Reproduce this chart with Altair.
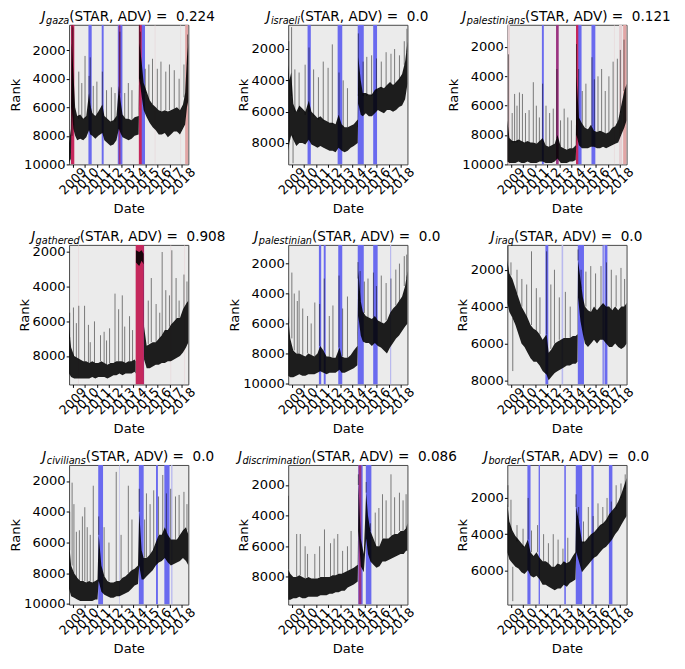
import altair as alt
import pandas as pd

FONT = "DejaVu Sans"
W, H = 123, 144
YEARS = list(range(2009, 2019))
X_DOMAIN = [alt.DateTime(year=2008, month=9, date=13), alt.DateTime(year=2018, month=7, date=26)]

KINDS = ["blue", "red", "purple", "pink", "salmon", "lightblue"]
KIND_COLORS = ["#6a6aef", "#c5285c", "#9b3380", "#e6d0d3", "#e2a6a6", "#b9b9ee"]

WORDS = ["gaza", "israeli", "palestinians", "gathered", "palestinian", "iraq",
         "civilians", "discrimination", "border"]
SCORES = ["0.224", "0.0", "0.121", "0.908", "0.0", "0.0", "0.0", "0.086", "0.0"]
Y_DOMAINS = [[220, 10000], [450, 9370], [490, 10000], [1590, 9640], [750, 10080],
             [650, 8230], [950, 10040], [690, 9810], [180, 7890]]
T5 = [2000, 4000, 6000, 8000, 10000]
T4 = [2000, 4000, 6000, 8000]
Y_TICKS = [T5, T4, T5, T4, T5, T4, T5, T4, [2000, 4000, 6000]]

# ---- core band of the rank series: (year, upper edge rank, lower edge rank)
core_gaza = [(2008.70, 8500, 9900), (2008.85, 7500, 9600), (2008.92, 1500, 6000), (2009.05, 3500, 7500),
             (2009.2, 6000, 8000), (2009.37, 6600, 8300), (2009.62, 6500, 8200), (2009.87, 6800, 8300),
             (2010.12, 6600, 8100), (2010.35, 5000, 7600), (2010.45, 5800, 7900), (2010.62, 6400, 8000),
             (2010.87, 6600, 8200), (2011.12, 6300, 8000), (2011.45, 5800, 7800), (2011.62, 6600, 8300),
             (2011.87, 6800, 8500), (2012.12, 7000, 8700), (2012.37, 6900, 8600), (2012.62, 6600, 8300),
             (2012.82, 4500, 7500), (2012.95, 5500, 7800), (2013.12, 6500, 8100), (2013.37, 6800, 8200),
             (2013.62, 6800, 8300), (2013.87, 6900, 8200), (2014.12, 6700, 8000), (2014.45, 6600, 7900),
             (2014.52, 1500, 4000), (2014.7, 2800, 5200), (2014.87, 4300, 6200), (2015.12, 4900, 6700),
             (2015.37, 5500, 7100), (2015.62, 5800, 7400), (2015.87, 6000, 7600), (2016.12, 6200, 7900),
             (2016.37, 6300, 7900), (2016.62, 6200, 7800), (2016.87, 6300, 8100), (2017.12, 6200, 7900),
             (2017.37, 6100, 7700), (2017.62, 6000, 7700), (2017.87, 6200, 7900), (2018.12, 5800, 7500),
             (2018.3, 5000, 7200), (2018.45, 2500, 6000), (2018.57, 1500, 5500)]
core_israeli = [(2008.70, 3000, 8500), (2008.8, 4000, 8000), (2008.95, 3500, 7500), (2009.12, 5500, 7800),
                (2009.37, 6000, 8200), (2009.62, 5600, 8000), (2009.87, 5800, 8000), (2010.12, 6000, 8100),
                (2010.4, 5300, 7800), (2010.62, 6000, 8100), (2010.87, 6200, 8200), (2011.12, 6400, 8300),
                (2011.37, 6300, 8200), (2011.62, 6500, 8300), (2011.87, 6600, 8400), (2012.12, 6700, 8500),
                (2012.37, 6700, 8500), (2012.62, 6800, 8600), (2012.87, 6200, 8300), (2013.12, 6800, 8500),
                (2013.37, 7000, 8600), (2013.62, 7000, 8500), (2013.87, 6900, 8300), (2014.12, 6800, 8200),
                (2014.45, 6500, 8000), (2014.5, 2500, 5500), (2014.7, 4000, 6200), (2014.87, 4800, 6300),
                (2015.12, 4800, 6100), (2015.37, 4900, 6300), (2015.62, 4900, 6300), (2015.87, 4600, 6100),
                (2016.12, 4500, 5900), (2016.37, 4400, 6000), (2016.62, 4500, 6100), (2016.87, 4300, 5900),
                (2017.12, 4100, 5900), (2017.37, 4300, 6000), (2017.62, 4100, 5900), (2017.87, 3900, 5700),
                (2018.12, 3600, 5600), (2018.37, 2800, 5200), (2018.57, 1500, 4200)]
core_palestinians = [(2008.70, 7000, 9800), (2008.87, 8200, 9900), (2009.12, 8400, 9900), (2009.37, 8400, 9900),
                     (2009.62, 8300, 9800), (2009.87, 8400, 9900), (2010.12, 8500, 9900), (2010.37, 8400, 9800),
                     (2010.62, 8500, 9900), (2010.87, 8500, 9900), (2011.12, 8600, 9900), (2011.37, 8400, 9800),
                     (2011.62, 8200, 9800), (2011.87, 8700, 9900), (2012.12, 8800, 9900), (2012.37, 8700, 9900),
                     (2012.62, 8600, 9800), (2012.85, 8000, 9600), (2013.12, 8800, 9900), (2013.37, 8900, 9900),
                     (2013.62, 9000, 9900), (2013.87, 8900, 9800), (2014.12, 8900, 9800), (2014.36, 8700, 9700),
                     (2014.42, 4000, 8000), (2014.62, 6800, 8700), (2014.87, 7200, 8900), (2015.12, 7500, 8900),
                     (2015.37, 7600, 8900), (2015.62, 7300, 8800), (2015.87, 7700, 8800), (2016.12, 7800, 8900),
                     (2016.37, 7700, 8900), (2016.62, 7800, 8800), (2016.87, 7900, 8900), (2017.12, 7800, 8800),
                     (2017.37, 7500, 8700), (2017.62, 7400, 8600), (2017.87, 7000, 8500), (2018.12, 6000, 8000),
                     (2018.37, 5000, 7500), (2018.57, 4500, 7000)]
core_gathered = [(2008.70, 6300, 9000), (2008.87, 7500, 9200), (2009.12, 8000, 9300), (2009.37, 8100, 9300),
                 (2009.62, 8200, 9300), (2009.87, 8300, 9300), (2010.12, 8300, 9300), (2010.37, 8400, 9300),
                 (2010.62, 8300, 9200), (2010.87, 8400, 9300), (2011.12, 8400, 9200), (2011.37, 8300, 9200),
                 (2011.62, 8400, 9200), (2011.87, 8500, 9300), (2012.12, 8400, 9200), (2012.37, 8400, 9100),
                 (2012.62, 8300, 9100), (2012.87, 8300, 9000), (2013.12, 8300, 9100), (2013.37, 8400, 9000),
                 (2013.62, 8300, 9000), (2013.87, 8300, 9000), (2014.12, 8200, 8900), (2014.2, 8300, 9000),
                 (2014.23, 1900, 2600), (2014.5, 2000, 2800), (2014.7, 1900, 2500), (2014.86, 2100, 2700),
                 (2014.9, 6300, 8200), (2015.12, 7400, 8700), (2015.37, 7300, 8700), (2015.62, 7200, 8600),
                 (2015.87, 7200, 8500), (2016.12, 7000, 8500), (2016.37, 6800, 8400), (2016.62, 6500, 8400),
                 (2016.87, 6500, 8300), (2017.12, 6200, 8300), (2017.37, 6000, 8200), (2017.62, 5800, 8100),
                 (2017.87, 5800, 8000), (2018.12, 5300, 7800), (2018.37, 5000, 7500), (2018.57, 4800, 7200)]
core_palestinian = [(2008.70, 5500, 9500), (2008.87, 7000, 9600), (2009.12, 7800, 9600), (2009.37, 8000, 9500),
                    (2009.62, 8000, 9400), (2009.87, 8100, 9500), (2010.12, 8200, 9500), (2010.37, 8000, 9400),
                    (2010.62, 8100, 9400), (2010.87, 8200, 9400), (2011.12, 8000, 9300), (2011.35, 7500, 9200),
                    (2011.62, 7800, 9300), (2011.87, 8200, 9400), (2012.12, 8200, 9300), (2012.37, 8300, 9300),
                    (2012.62, 8300, 9300), (2012.95, 7600, 9100), (2013.12, 8200, 9300), (2013.37, 8300, 9300),
                    (2013.62, 8300, 9200), (2013.87, 8100, 9100), (2014.12, 7800, 9000), (2014.42, 7500, 8800),
                    (2014.5, 2500, 5500), (2014.7, 4500, 6800), (2014.87, 5200, 7200), (2015.12, 5500, 7300),
                    (2015.37, 5600, 7300), (2015.62, 5700, 7500), (2015.87, 5500, 7300), (2016.12, 5800, 7500),
                    (2016.37, 5900, 7600), (2016.62, 6000, 7800), (2016.87, 5800, 8000), (2017.12, 5300, 7600),
                    (2017.37, 5000, 7300), (2017.62, 4800, 7000), (2017.87, 4500, 6800), (2018.12, 4200, 6500),
                    (2018.37, 3500, 6200), (2018.57, 2500, 6000)]
core_iraq = [(2008.70, 1500, 3800), (2008.87, 2200, 4300), (2009.12, 2500, 4600), (2009.37, 3000, 5000),
             (2009.62, 3500, 5500), (2009.87, 4000, 6000), (2010.12, 4300, 6200), (2010.37, 4600, 6500),
             (2010.62, 5000, 6800), (2010.87, 5200, 7000), (2011.12, 5300, 7000), (2011.37, 5500, 7200),
             (2011.62, 5800, 7500), (2011.95, 5500, 7700), (2012.12, 6500, 8000), (2012.37, 6300, 7800),
             (2012.62, 6000, 7600), (2012.87, 5900, 7500), (2013.12, 5800, 7400), (2013.37, 5700, 7300),
             (2013.62, 5700, 7200), (2013.87, 5700, 7200), (2014.12, 5600, 7100), (2014.35, 5600, 7100),
             (2014.5, 5500, 7000), (2014.55, 1500, 3500), (2014.75, 2500, 4800), (2014.95, 3500, 5500),
             (2015.12, 4000, 6000), (2015.37, 4200, 6200), (2015.62, 4300, 6000), (2015.87, 4000, 5800),
             (2016.12, 4200, 6000), (2016.37, 4000, 5800), (2016.62, 3800, 5800), (2016.87, 4000, 6000),
             (2017.12, 4000, 6200), (2017.37, 4200, 6200), (2017.62, 4000, 6000), (2017.87, 4200, 6200),
             (2018.12, 4000, 6300), (2018.37, 4000, 6200), (2018.57, 3800, 6000)]
core_civilians = [(2008.70, 6000, 9000), (2008.87, 7500, 9500), (2009.12, 8000, 9600), (2009.37, 8300, 9700),
                  (2009.62, 8500, 9800), (2009.87, 8500, 9800), (2010.12, 8600, 9800), (2010.37, 8500, 9800),
                  (2010.62, 8600, 9800), (2010.87, 8500, 9700), (2011.05, 8400, 9700), (2011.15, 5500, 8500),
                  (2011.37, 7500, 9200), (2011.62, 8200, 9400), (2011.87, 8500, 9500), (2012.12, 8600, 9600),
                  (2012.37, 8600, 9600), (2012.62, 8500, 9500), (2012.87, 8500, 9500), (2013.12, 8300, 9400),
                  (2013.37, 8200, 9300), (2013.62, 8000, 9200), (2013.87, 7800, 9000), (2014.12, 7700, 8800),
                  (2014.4, 7500, 8700), (2014.5, 4000, 7500), (2014.7, 6500, 8400), (2014.87, 7000, 8400),
                  (2015.12, 7000, 8200), (2015.37, 6800, 8000), (2015.62, 6500, 7800), (2015.87, 6000, 7500),
                  (2016.12, 5500, 7300), (2016.37, 5500, 7200), (2016.62, 5000, 7000), (2016.87, 5500, 7300),
                  (2017.12, 5800, 7500), (2017.37, 5800, 7400), (2017.62, 5800, 7300), (2017.87, 5500, 7200),
                  (2018.12, 5200, 7000), (2018.37, 5000, 7200), (2018.57, 5500, 7500)]
core_discrimination = [(2008.70, 7500, 9500), (2008.87, 7800, 9500), (2009.12, 8000, 9400), (2009.37, 8000, 9400),
                       (2009.62, 7900, 9300), (2009.87, 8000, 9400), (2010.12, 8100, 9400), (2010.37, 8000, 9300),
                       (2010.62, 8100, 9300), (2010.87, 8100, 9300), (2011.12, 8100, 9300), (2011.37, 8000, 9200),
                       (2011.62, 8000, 9200), (2011.87, 8000, 9200), (2012.12, 8000, 9100), (2012.37, 7900, 9100),
                       (2012.62, 7900, 9000), (2012.87, 7800, 9000), (2013.12, 7800, 8900), (2013.37, 7700, 8900),
                       (2013.62, 7600, 8700), (2013.87, 7500, 8600), (2014.12, 7400, 8500), (2014.45, 7200, 8300),
                       (2014.52, 2000, 5000), (2014.7, 5500, 7300), (2014.95, 6500, 7700), (2015.15, 2500, 5500),
                       (2015.3, 4000, 6500), (2015.5, 5000, 7000), (2015.75, 5500, 7200), (2016.0, 6000, 7400),
                       (2016.25, 6000, 7300), (2016.5, 5500, 7000), (2016.75, 5500, 7000), (2017.0, 5500, 6900),
                       (2017.25, 5300, 6800), (2017.5, 5200, 6700), (2017.75, 5200, 6600), (2018.0, 5000, 6500),
                       (2018.25, 5000, 6500), (2018.45, 4800, 6300), (2018.57, 4500, 6300)]
core_border = [(2008.70, 2300, 5000), (2008.87, 3300, 5400), (2009.12, 3800, 5600), (2009.37, 4100, 5800),
               (2009.62, 4300, 5900), (2009.87, 4500, 6100), (2010.12, 4700, 6200), (2010.4, 4300, 6000),
               (2010.62, 5000, 6300), (2010.87, 5200, 6400), (2011.12, 5000, 6300), (2011.37, 5300, 6500),
               (2011.62, 5500, 6800), (2011.87, 5500, 6800), (2012.12, 5600, 6900), (2012.37, 5800, 7000),
               (2012.62, 5800, 7100), (2012.87, 5600, 7000), (2013.12, 5700, 7000), (2013.37, 5500, 6800),
               (2013.62, 5600, 6900), (2013.87, 5500, 6700), (2014.12, 5200, 6600), (2014.33, 5000, 6500),
               (2014.4, 2500, 5000), (2014.62, 3300, 5500), (2014.87, 4400, 6100), (2015.12, 4400, 5900),
               (2015.37, 4200, 5700), (2015.62, 4000, 5500), (2015.87, 3900, 5300), (2016.12, 3700, 5200),
               (2016.37, 3500, 5000), (2016.62, 3400, 4800), (2016.87, 3200, 4700), (2017.12, 2900, 4500),
               (2017.37, 2700, 4300), (2017.62, 2500, 4000), (2017.87, 2200, 3800), (2018.12, 1800, 3500),
               (2018.37, 1300, 3200), (2018.57, 900, 3000)]

# ---- isolated spikes of the series: (year, peak rank, foot rank)
spk_gaza = [(2008.95, 250, 8000), (2009.02, 400, 6000), (2009.5, 3500, 6800), (2009.75, 4300, 6800),
            (2010.02, 2400, 6800), (2010.35, 3800, 6000), (2010.45, 2500, 6000), (2010.7, 4500, 6500),
            (2011.0, 4200, 6500), (2011.45, 3500, 6000), (2011.8, 4800, 6800), (2012.2, 4600, 7000),
            (2012.5, 5000, 7000), (2012.9, 700, 5000), (2013.3, 5000, 6800), (2013.6, 4300, 6800),
            (2013.9, 4800, 6900), (2014.52, 200, 4000), (2014.6, 700, 4000), (2015.0, 3300, 5000),
            (2015.3, 3000, 5500), (2015.6, 2600, 5800), (2016.0, 3300, 6100), (2016.3, 2800, 6300),
            (2016.7, 3500, 6200), (2017.0, 3000, 6200), (2017.4, 3400, 6100), (2017.8, 4000, 6200),
            (2018.2, 3000, 5300), (2018.5, 900, 3000)]
spk_israeli = [(2008.75, 1500, 4000), (2008.98, 600, 5000), (2009.1, 9300, 7500), (2009.25, 3300, 6000),
               (2009.6, 3500, 6000), (2010.1, 3000, 6200), (2010.42, 1900, 6000), (2010.8, 3300, 6300),
               (2011.2, 3800, 6500), (2011.6, 2800, 6600), (2012.0, 3200, 6700), (2012.35, 1700, 6800),
               (2012.9, 3500, 6500), (2013.25, 4000, 7000), (2013.6, 4500, 7000), (2014.5, 1000, 5000),
               (2014.9, 2800, 5000), (2015.2, 2500, 5000), (2015.6, 2400, 5000), (2016.0, 2600, 4700),
               (2016.4, 2800, 4500), (2016.8, 2200, 4400), (2017.2, 2300, 4200), (2017.5, 2000, 4200),
               (2017.9, 2400, 4000), (2018.3, 1500, 3000), (2018.52, 700, 2200)]
spk_palestinians = [(2008.8, 2500, 8000), (2009.1, 6500, 8500), (2009.3, 5200, 8500), (2009.5, 6000, 8500),
                    (2009.7, 5100, 8400), (2009.95, 5200, 8500), (2010.2, 6500, 8500), (2010.5, 6300, 8500),
                    (2010.85, 4400, 8500), (2011.1, 6000, 8600), (2011.35, 6800, 8500), (2011.62, 4500, 8400),
                    (2011.9, 6000, 8700), (2012.2, 6500, 8800), (2012.5, 6200, 8700), (2012.8, 3500, 8200),
                    (2013.1, 7000, 8800), (2013.4, 6200, 8900), (2013.7, 6800, 9000), (2014.0, 7000, 8900),
                    (2014.42, 1800, 8000), (2014.6, 3500, 7000), (2014.9, 5000, 7300), (2015.2, 4500, 7500),
                    (2015.7, 2700, 7400), (2015.9, 4200, 7700), (2016.2, 4000, 7800), (2016.5, 3500, 7800),
                    (2016.8, 5000, 7900), (2017.1, 4000, 7800), (2017.45, 3000, 7500), (2017.8, 2800, 7100),
                    (2018.05, 2200, 6500), (2018.35, 1500, 5000)]
spk_gathered = [(2008.75, 5500, 7000), (2009.06, 5200, 8000), (2009.3, 6100, 8100), (2009.5, 5100, 8200),
                (2009.98, 5100, 8300), (2010.3, 6200, 8400), (2010.45, 7200, 8400), (2010.8, 6000, 8400),
                (2011.3, 6800, 8300), (2011.6, 6600, 8400), (2011.8, 7100, 8500), (2012.05, 6400, 8400),
                (2012.5, 4400, 8400), (2012.8, 5300, 8300), (2013.1, 4500, 8300), (2013.3, 6300, 8400),
                (2013.7, 5700, 8300), (2013.95, 6500, 8300), (2015.25, 4800, 7300), (2015.5, 3500, 7200),
                (2015.9, 5000, 7200), (2016.2, 5500, 7000), (2016.4, 2000, 6800), (2016.7, 4200, 6500),
                (2017.0, 4500, 6300), (2017.2, 1900, 6200), (2017.55, 3500, 5900), (2017.8, 4800, 5800),
                (2018.2, 3300, 5300), (2018.45, 3700, 5000)]
spk_palestinian = [(2008.75, 4000, 6000), (2009.0, 2600, 7000), (2009.2, 4000, 7800), (2009.45, 4500, 8000),
                   (2009.6, 3800, 8000), (2009.9, 5000, 8100), (2010.3, 5500, 8000), (2010.6, 6000, 8100),
                   (2010.9, 4600, 8200), (2011.3, 4700, 7500), (2011.68, 3000, 7800), (2012.1, 5500, 8200),
                   (2012.4, 4800, 8300), (2012.9, 2800, 7600), (2013.2, 5000, 8200), (2013.6, 4200, 8300),
                   (2014.47, 1900, 3000), (2014.65, 2500, 4500), (2015.0, 3200, 5300), (2015.3, 3000, 5600),
                   (2015.75, 2600, 5600), (2016.0, 3500, 5700), (2016.4, 2800, 5900), (2016.8, 3300, 5800),
                   (2017.2, 3000, 5300), (2017.6, 2400, 4800), (2017.9, 2000, 4500), (2018.3, 1500, 3500),
                   (2018.5, 1400, 3000)]
spk_iraq = [(2008.75, 700, 2000), (2009.0, 1600, 2300), (2009.15, 7500, 4600), (2009.5, 2000, 3300),
            (2009.9, 2500, 4000), (2010.3, 2800, 4600), (2010.7, 1000, 5000), (2011.1, 3000, 5300),
            (2011.4, 3500, 5500), (2011.95, 1000, 5500), (2012.3, 2800, 6300), (2012.6, 2000, 6000),
            (2013.0, 3500, 5800), (2013.5, 3200, 5700), (2013.9, 4000, 5700), (2014.55, 900, 1500),
            (2014.8, 2000, 3000), (2015.2, 2100, 4000), (2015.6, 1800, 4300), (2016.0, 2200, 4100),
            (2016.45, 1800, 4000), (2016.9, 1600, 4000), (2017.3, 2000, 4200), (2017.7, 2300, 4000),
            (2018.1, 1900, 4000), (2018.4, 2500, 4000)]
spk_civilians = [(2008.75, 4000, 6500), (2008.95, 2100, 7500), (2009.1, 3500, 8000), (2009.3, 5300, 8300),
                 (2009.55, 5200, 8500), (2009.8, 4300, 8500), (2010.0, 3700, 8500), (2010.2, 5000, 8600),
                 (2010.45, 5500, 8500), (2010.7, 2300, 8600), (2011.15, 4300, 5500), (2011.6, 5000, 8200),
                 (2012.0, 6000, 8500), (2012.6, 1400, 8500), (2013.0, 5500, 8400), (2013.6, 2300, 8000),
                 (2013.9, 4500, 7800), (2014.5, 2500, 4000), (2014.95, 4500, 7000), (2015.1, 2800, 7000),
                 (2015.4, 3500, 6800), (2015.7, 2600, 6500), (2016.1, 3000, 5500), (2016.45, 1600, 5500),
                 (2016.75, 2800, 5300), (2017.1, 2500, 5800), (2017.5, 3000, 5800), (2017.8, 2900, 5600),
                 (2018.2, 2700, 5200), (2018.45, 3500, 5200)]
spk_discrimination = [(2008.71, 2700, 7500), (2009.4, 5200, 8000), (2009.7, 5200, 7900), (2010.1, 6000, 8100),
                      (2010.3, 6500, 8000), (2010.9, 6500, 8100), (2011.3, 6000, 8000), (2011.7, 4900, 8000),
                      (2012.2, 5800, 8000), (2012.5, 5500, 7900), (2012.8, 5200, 7800), (2013.2, 6300, 7800),
                      (2013.6, 6000, 7600), (2013.9, 5000, 7500), (2014.5, 1300, 2000), (2015.15, 1800, 2500),
                      (2015.5, 4500, 5000), (2015.9, 3800, 6000), (2016.2, 3500, 6000), (2016.5, 2600, 5500),
                      (2016.8, 3000, 5500), (2017.2, 1300, 5300), (2017.5, 2800, 5200), (2017.9, 2500, 5000),
                      (2018.2, 3000, 5000), (2018.45, 2600, 4800)]
spk_border = [(2008.75, 1300, 2500), (2009.0, 2100, 3800), (2009.15, 7700, 5800), (2009.5, 3500, 4400),
              (2010.0, 3700, 4700), (2010.42, 2000, 4300), (2010.7, 3800, 5000), (2011.2, 3500, 5000),
              (2011.7, 4000, 5500), (2012.1, 4500, 5600), (2012.5, 4000, 5800), (2012.9, 4300, 5600),
              (2013.3, 4800, 5600), (2013.7, 4200, 5600), (2014.38, 1800, 2500), (2014.6, 2500, 3300),
              (2015.0, 3300, 4500), (2015.4, 2500, 4300), (2015.8, 3000, 4000), (2016.2, 2300, 3800),
              (2016.6, 2500, 3500), (2016.95, 2000, 3300), (2017.3, 2200, 2800), (2017.7, 1300, 2600),
              (2018.1, 1200, 2000), (2018.45, 700, 1500)]

# ---- shaded periods: (start year, end year, kind)
bands_gaza = [(2008.86, 2009.13, "red"), (2010.30, 2010.57, "blue"), (2011.40, 2011.56, "blue"),
              (2012.73, 2013.11, "blue"), (2012.81, 2012.95, "purple"), (2014.47, 2014.74, "red"),
              (2014.71, 2014.98, "blue"), (2015.79, 2015.83, "pink"), (2017.92, 2017.96, "pink"),
              (2018.30, 2018.57, "salmon")]
bands_israeli = [(2010.30, 2010.57, "blue"), (2012.79, 2013.17, "blue"), (2014.45, 2014.95, "blue"),
                 (2015.73, 2016.05, "blue")]
bands_palestinians = [(2008.70, 2008.92, "pink"), (2011.56, 2011.72, "blue"), (2012.73, 2012.95, "purple"),
                      (2014.52, 2014.84, "blue"), (2014.38, 2014.57, "red"), (2015.66, 2015.98, "blue"),
                      (2017.52, 2017.56, "pink"), (2017.94, 2018.2, "pink"), (2018.28, 2018.57, "salmon")]
bands_gathered = [(2009.48, 2009.52, "pink"), (2014.21, 2014.9, "red"), (2014.86, 2014.9, "purple"),
                  (2017.1, 2017.14, "pink"), (2018.25, 2018.29, "pink")]
bands_palestinian = [(2011.24, 2011.43, "blue"), (2011.64, 2011.8, "blue"), (2012.84, 2013.17, "blue"),
                     (2014.45, 2014.95, "blue"), (2015.73, 2016.1, "blue"), (2017.12, 2017.22, "lightblue")]
bands_iraq = [(2011.85, 2012.09, "blue"), (2013.19, 2013.32, "lightblue"), (2014.53, 2015.04, "blue"),
              (2016.58, 2016.68, "blue"), (2016.68, 2016.76, "lightblue"), (2016.76, 2016.98, "blue")]
bands_civilians = [(2011.11, 2011.51, "blue"), (2012.83, 2012.88, "lightblue"), (2014.47, 2014.87, "blue"),
                   (2015.89, 2016.05, "blue"), (2016.58, 2017.01, "blue"), (2017.14, 2017.25, "lightblue")]
bands_discrimination = [(2014.5, 2014.86, "blue"), (2014.52, 2014.75, "purple"), (2015.12, 2015.58, "blue")]
bands_border = [(2010.36, 2010.62, "blue"), (2011.29, 2011.4, "blue"), (2013.41, 2013.54, "blue"),
                (2014.36, 2014.89, "blue"), (2015.65, 2015.84, "blue"), (2017.1, 2017.39, "blue")]

CORES = [core_gaza, core_israeli, core_palestinians, core_gathered, core_palestinian, core_iraq,
         core_civilians, core_discrimination, core_border]
SPIKES = [spk_gaza, spk_israeli, spk_palestinians, spk_gathered, spk_palestinian, spk_iraq,
          spk_civilians, spk_discrimination, spk_border]
BANDS = [bands_gaza, bands_israeli, bands_palestinians, bands_gathered, bands_palestinian, bands_iraq,
         bands_civilians, bands_discrimination, bands_border]

# DejaVu Sans advance widths (units per 2048 em) for title layout
ADV = {' ': 651, '\u00a0': 651, '(': 799, ')': 799, ',': 651, '.': 651, '=': 1716, 'A': 1401, 'D': 1577,
       'R': 1423, 'S': 1300, 'T': 1251, 'V': 1401, 'J': 604, 'a': 1255, 'b': 1300, 'c': 1126, 'd': 1300,
       'e': 1260, 'f': 721, 'g': 1300, 'h': 1298, 'i': 569, 'l': 569, 'm': 1995, 'n': 1298, 'o': 1253,
       'p': 1300, 'q': 1300, 'r': 842, 's': 1067, 't': 803, 'u': 1298, 'v': 1212, 'z': 1075}
for d in "0123456789":
    ADV[d] = 1303


def tw(s, size):
    return sum(ADV.get(c, 1200) for c in s) / 2048.0 * size


def ystamp(y):
    yi = int(y)
    ts = pd.Timestamp(yi, 1, 1) + pd.Timedelta(days=(y - yi) * 365.25)
    return ts.strftime("%Y-%m-%dT%H:%M:%S")


XAXIS = alt.Axis(title="Date", values=[alt.DateTime(year=y, month=1, date=1) for y in YEARS],
                 format="%Y", labelAngle=-45, labelAlign="center", labelBaseline="middle",
                 labelPadding=14, labelOverlap=False, labelFlush=False, labelFontSize=13,
                 titlePadding=5, tickSize=3)


def xenc(field):
    return alt.X(f"{field}:T", scale=alt.Scale(domain=X_DOMAIN), axis=XAXIS)


def yenc(field, dom, ticks):
    return alt.Y(f"{field}:Q",
                 scale=alt.Scale(domain=dom, reverse=True, nice=False, zero=False),
                 axis=alt.Axis(title="Rank", values=ticks, format="d", labelPadding=1,
                               titlePadding=1, tickSize=3))


def panel(i):
    word, score = WORDS[i], SCORES[i]
    dom, ticks = Y_DOMAINS[i], Y_TICKS[i]
    core = pd.DataFrame([(ystamp(t), a, b) for t, a, b in CORES[i]], columns=["t", "top", "bot"])
    spk = pd.DataFrame([(ystamp(t), a, b) for t, a, b in SPIKES[i]], columns=["t", "peak", "foot"])
    bnd = pd.DataFrame([(ystamp(s), ystamp(e), k, n) for n, (s, e, k) in enumerate(BANDS[i])],
                       columns=["s", "e", "kind", "n"])

    bands = alt.Chart(bnd).mark_rect(clip=True).encode(
        x=xenc("s"), x2="e:T", y=alt.value(0), y2=alt.value(H),
        color=alt.Color("kind:N", scale=alt.Scale(domain=KINDS, range=KIND_COLORS), legend=None),
        order="n:Q")
    area = alt.Chart(core).mark_area(clip=True, color="black", opacity=0.88, line=False).encode(
        x=xenc("t"), y=yenc("top", dom, ticks), y2="bot:Q")
    spikes = alt.Chart(spk).mark_rule(clip=True, color="black", opacity=0.5, strokeWidth=1).encode(
        x=xenc("t"), y=yenc("peak", dom, ticks), y2="foot:Q")

    main = "(STAR, ADV) =\u00a0 " + score
    wj, ws, wm = tw("J", 14), tw(word, 10), tw(main, 14)
    x0 = W / 2 - (wj + ws + wm) / 2
    base = alt.Chart(pd.DataFrame({"k": [0]}))
    common = dict(align="left", baseline="alphabetic", font=FONT, color="black")
    t1 = base.mark_text(text="J", fontSize=14, fontStyle="italic", **common).encode(
        x=alt.value(x0), y=alt.value(-4))
    t2 = base.mark_text(text=word, fontSize=10, fontStyle="italic", **common).encode(
        x=alt.value(x0 + wj + 0.5), y=alt.value(-1))
    t3 = base.mark_text(text=main, fontSize=14, **common).encode(
        x=alt.value(x0 + wj + ws + 0.5), y=alt.value(-4))
    return alt.layer(bands, area, spikes, t1, t2, t3).properties(width=W, height=H)


chart = alt.concat(
    *[panel(i) for i in range(9)], columns=3, bounds="flush",
    spacing=alt.RowColnumber(row=83, column=103)
).properties(
    padding={"left": 0, "top": -9, "right": 5, "bottom": 0}
).configure_view(
    fill="#ebebeb", stroke="#444444", strokeWidth=1
).configure_axis(
    labelFont=FONT, labelFontSize=13.5, titleFont=FONT, titleFontSize=13.5,
    titleFontWeight="normal", labelColor="black", titleColor="black", tickColor="black",
    domain=False, grid=False
)

chart.save("out.html", embed_options={"renderer": "svg", "actions": False})
